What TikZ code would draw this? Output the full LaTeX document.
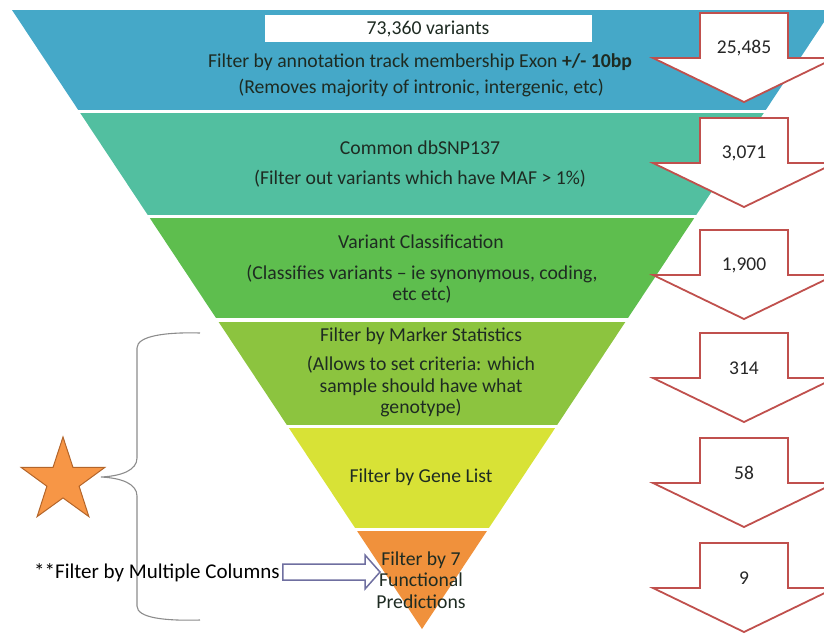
\documentclass[tikz,border=0pt]{standalone}
\usepackage{fontspec}
\setmainfont{Carlito}
\usetikzlibrary{shapes.geometric}
\definecolor{bandA}{HTML}{45A8C8}
\definecolor{bandB}{HTML}{52BFA0}
\definecolor{bandC}{HTML}{5EBE4E}
\definecolor{bandD}{HTML}{8CC43F}
\definecolor{bandE}{HTML}{D8E236}
\definecolor{bandF}{HTML}{F0913C}
\definecolor{txtc}{HTML}{1E2B22}
\definecolor{redline}{HTML}{C0504D}
\definecolor{starfill}{HTML}{F79646}
\definecolor{stardraw}{HTML}{B3652A}
\definecolor{bracecol}{HTML}{8C8C8C}
\definecolor{hollow}{HTML}{6F6FA0}
\begin{document}
\begin{tikzpicture}[x=1pt,y=-1pt,
  ftxt/.style={text=txtc,font=\fontsize{19.7}{21.5}\selectfont,inner sep=0pt,align=center},
  numtxt/.style={text=black!85,font=\fontsize{19.5}{21.5}\selectfont,inner sep=0pt},
  redarrow/.style={draw=redline,fill=white,line width=1.8pt,line join=miter},
  hollowarrow/.style={draw=hollow,fill=white,line width=1.5pt},
  bracestyle/.style={draw=bracecol,line width=1.1pt}]
\useasboundingbox (0,0) rectangle (824,633);
% funnel
\begin{scope}
\clip (12,10) -- (832,10) -- (422,629) -- cycle;
\fill[bandA] (0,10) rectangle (840,110);
\fill[bandB] (0,113) rectangle (840,215);
\fill[bandC] (0,218) rectangle (840,318);
\fill[bandD] (0,322) rectangle (840,425);
\fill[bandE] (0,428) rectangle (840,528);
\fill[bandF] (0,531) rectangle (840,640);
\end{scope}
% band 1
\node[fill=white,minimum width=327pt,minimum height=27pt,inner sep=0pt] (box) at (428.5,28.5) {};
\node[ftxt] (t1a) at (428,29) {73,360 variants};
\node[ftxt] (t1b) at (420,62) {Filter by annotation track membership Exon \textbf{+/- 10bp}};
\node[ftxt] (t1c) at (421,88) {(Removes majority of intronic, intergenic, etc)};
% band 2
\node[ftxt] (t2a) at (420,148) {Common dbSNP137};
\node[ftxt] (t2b) at (420,179) {(Filter out variants which have MAF > 1\%)};
% band 3
\node[ftxt] (t3a) at (421,242) {Variant Classification};
\node[ftxt] (t3b) at (422,284) {(Classifies variants – ie synonymous, coding,\\etc etc)};
% band 4
\node[ftxt] (t4a) at (421,336) {Filter by Marker Statistics};
\node[ftxt] (t4b) at (421,386.5) {(Allows to set criteria: which\\sample should have what\\genotype)};
% band 5
\node[ftxt] (t5) at (421,477) {Filter by Gene List};
% band 6
\node[ftxt] (t6) at (421,580) {Filter by 7\\Functional\\Predictions};
% right arrows
\foreach \t/\lab [count=\i] in {13/{25,485},118/{3,071},230/{1,900},333/314,438/58,543/9} {
  \draw[redarrow] (700,\t) -- (788,\t) -- (788,\t+45) -- (835,\t+45) -- (744,\t+89) -- (653,\t+45) -- (700,\t+45) -- cycle;
  \node[numtxt] (n\i) at (744,\t+35) {\lab};
}
% star
\node[star,star points=5,star point ratio=2.6,minimum size=88pt,inner sep=0pt,fill=starfill,draw=stardraw,line width=1pt] (star) at (63,481) {};
% brace
\draw[bracestyle] (200,333) .. controls (165,332) and (137,336) .. (137,348) -- (137,458) .. controls (137,470) and (122,476) .. (101,477) .. controls (122,478) and (137,484) .. (137,496) -- (137,606) .. controls (137,618) and (165,621) .. (200,620);
% multiple columns
\node[text=black,font=\fontsize{21}{23}\selectfont,inner sep=0pt,anchor=west] (mc) at (34,573) {**Filter by Multiple Columns};
\coordinate (hs) at ([xshift=3pt]mc.east);
\coordinate (ht) at (380,572);
\draw[hollowarrow] ([yshift=8pt]hs |- ht) -- (365,564) -- (365,555) -- (ht) -- (365,589) -- (365,580) -- ([yshift=-8pt]hs |- ht) -- cycle;
\end{tikzpicture}
\end{document}
